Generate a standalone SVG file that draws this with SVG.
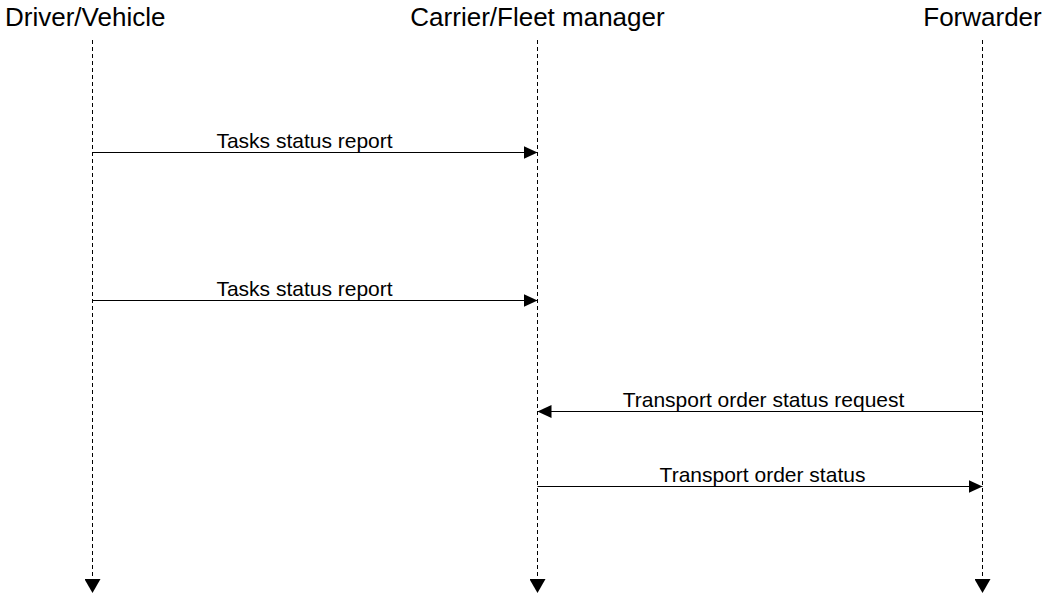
<svg xmlns="http://www.w3.org/2000/svg" width="1046" height="599" viewBox="0 0 1046 599">
<style>
.hdr{font-family:"Liberation Sans",Arial,sans-serif;font-size:26px;fill:#000}
.lbl{font-family:"Liberation Sans",Arial,sans-serif;font-size:21px;fill:#000}
.life{stroke:#000;stroke-width:1;stroke-dasharray:4,3;fill:none}
.msg{stroke:#000;stroke-width:1.2;fill:none}
</style>
<defs>
<marker id="ah" markerUnits="userSpaceOnUse" markerWidth="14" markerHeight="14" refX="14" refY="7" orient="auto">
<path d="M0,0.5 L14,7 L0,13.5 z" fill="#000"/>
</marker>
<marker id="lh" markerUnits="userSpaceOnUse" markerWidth="14" markerHeight="16" refX="14" refY="8" orient="auto">
<path d="M0,0 L14,8 L0,16 z" fill="#000"/>
</marker>
</defs>
<rect width="1046" height="599" fill="#fff"/>
<g id="driver">
<text class="hdr" x="5" y="26">Driver/Vehicle</text>
</g>
<g id="carrier">
<text class="hdr" x="537.5" y="26" text-anchor="middle">Carrier/Fleet manager</text>
</g>
<g id="forwarder">
<text class="hdr" x="982.5" y="26" text-anchor="middle">Forwarder</text>
</g>
<g id="connectors">
<line class="life" x1="92.5" y1="40" x2="92.5" y2="593" marker-end="url(#lh)"/>
<line class="life" x1="537.5" y1="40" x2="537.5" y2="593" marker-end="url(#lh)"/>
<line class="life" x1="982.5" y1="40" x2="982.5" y2="593" marker-end="url(#lh)"/>
<line class="msg" x1="92.5" y1="152.5" x2="537.5" y2="152.5" marker-end="url(#ah)"/>
<text class="lbl" x="304.5" y="148" text-anchor="middle">Tasks status report</text>
<line class="msg" x1="92.5" y1="300.5" x2="537.5" y2="300.5" marker-end="url(#ah)"/>
<text class="lbl" x="304.5" y="296" text-anchor="middle">Tasks status report</text>
<line class="msg" x1="982.5" y1="411.5" x2="537.5" y2="411.5" marker-end="url(#ah)"/>
<text class="lbl" x="763.5" y="407" text-anchor="middle">Transport order status request</text>
<line class="msg" x1="537.5" y1="486.5" x2="982.5" y2="486.5" marker-end="url(#ah)"/>
<text class="lbl" x="762.5" y="482" text-anchor="middle">Transport order status</text>
</g>
</svg>
